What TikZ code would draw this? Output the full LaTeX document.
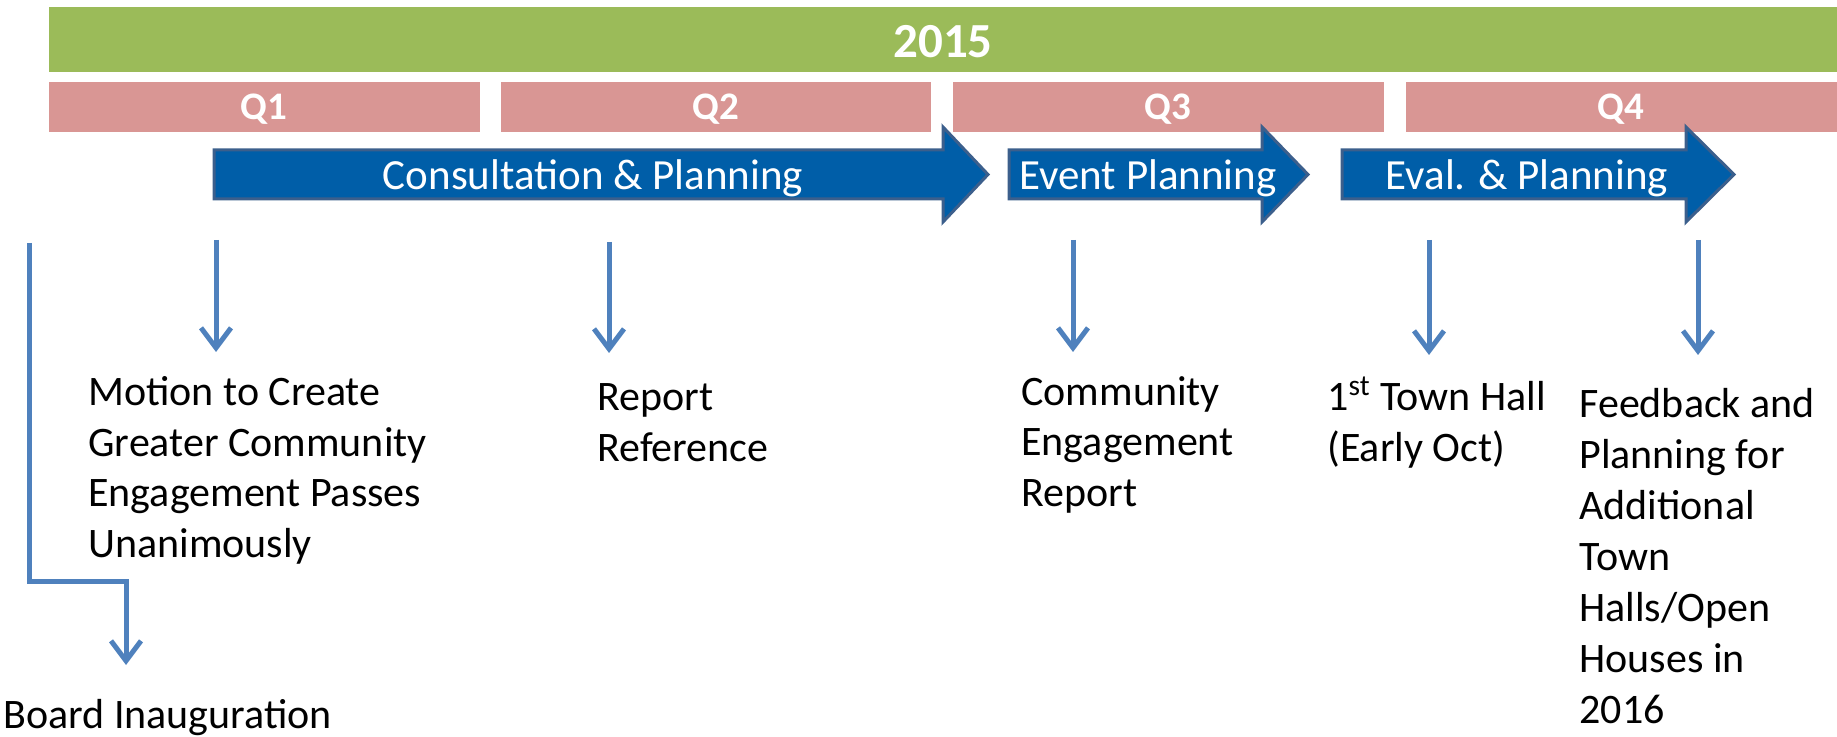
\documentclass[tikz,border=0pt]{standalone}
\usepackage{fontspec}
\setmainfont{Carlito}
\usetikzlibrary{arrows.meta}
\definecolor{yeargreen}{HTML}{9BBB59}
\definecolor{qpink}{HTML}{D99694}
\definecolor{phasefill}{RGB}{0,94,168}
\definecolor{phaseline}{RGB}{60,95,140}
\definecolor{linkblue}{HTML}{4F81BD}
\tikzset{
  yearbar/.style={fill=yeargreen,draw=none},
  qbar/.style={fill=qpink,draw=none},
  phase/.style={fill=phasefill,draw=phaseline,line width=1.5pt,line join=miter},
  hdr/.style={text=white,font=\bfseries\fontsize{24.5}{28}\selectfont,inner sep=0pt},
  qlab/.style={text=white,font=\bfseries\fontsize{19.5}{23}\selectfont,inner sep=0pt},
  phlab/.style={text=white,font=\fontsize{21.5}{25}\selectfont,inner sep=0pt},
  evt/.style={font=\fontsize{21}{25.5}\selectfont,align=left,inner sep=0pt,anchor=base west},
  link/.style={draw=linkblue,line width=2.5pt,-{Straight Barb[length=10pt,width=15pt]}},
}
\begin{document}
\begin{tikzpicture}[x=0.5pt,y=-0.5pt]
\useasboundingbox (0,0) rectangle (1837,737);
% year bar
\fill[yearbar] (49,7) rectangle (1837,72);
\node[hdr] (year) at (943,42) {2015};
% quarters
\fill[qbar] (49,82) rectangle (480,132);
\fill[qbar] (501,82) rectangle (931,132);
\fill[qbar] (953,82) rectangle (1384,132);
\fill[qbar] (1406,82) rectangle (1837,132);
\node[qlab] (q1) at (264,109) {Q1};
\node[qlab] (q2) at (716,109) {Q2};
\node[qlab] (q3) at (1168,109) {Q3};
\node[qlab] (q4) at (1621,109) {Q4};
% phase arrows
\draw[phase] (214,150) -- (943,150) -- (943,127) -- (988,174.5) -- (943,222) -- (943,199) -- (214,199) -- cycle;
\draw[phase] (1009,150) -- (1262,150) -- (1262,127) -- (1308,174.5) -- (1262,222) -- (1262,199) -- (1009,199) -- cycle;
\draw[phase] (1342,150) -- (1686,150) -- (1686,127) -- (1734,174.5) -- (1686,222) -- (1686,199) -- (1342,199) -- cycle;
\node[phlab] (p1) at (593,178) {Consultation \& Planning};
\node[phlab] (p2) at (1148,178) {Event Planning};
\node[phlab] (p3) at (1527,178) {Eval. \& Planning};
% events (anchored at the baseline of the last line)
\node[evt] (e0) at (3,728) {Board Inauguration};
\node[evt] (e1) at (88,558) {Motion to Create\\Greater Community\\Engagement Passes\\Unanimously};
\node[evt] (e2) at (597,462) {Report\\Reference};
\node[evt] (e3) at (1021,507) {Community\\Engagement\\Report};
\node[evt] (e4) at (1327,462) {1\textsuperscript{st} Town Hall\\(Early Oct)};
\node[evt] (e5) at (1579,723) {Feedback and\\Planning for\\Additional\\Town\\Halls/Open\\Houses in\\2016};
% connector coordinates
\coordinate (s0) at (29,243);
\coordinate (b0) at (29,581);
\coordinate (c0) at (126,581);
\coordinate (t0) at (126,665);
\coordinate (s1) at (216,240); \coordinate (t1) at (216,352);
\coordinate (s2) at (609,242); \coordinate (t2) at (609,353);
\coordinate (s3) at (1073,240); \coordinate (t3) at (1073,352);
\coordinate (s4) at (1429,240); \coordinate (t4) at (1429,355);
\coordinate (s5) at (1698,240); \coordinate (t5) at (1698,355);
\draw[link,line join=miter] (s0) -- (b0) -- (c0) -- (t0);
\draw[link] (s1) -- (t1);
\draw[link] (s2) -- (t2);
\draw[link] (s3) -- (t3);
\draw[link] (s4) -- (t4);
\draw[link] (s5) -- (t5);
\end{tikzpicture}
\end{document}
